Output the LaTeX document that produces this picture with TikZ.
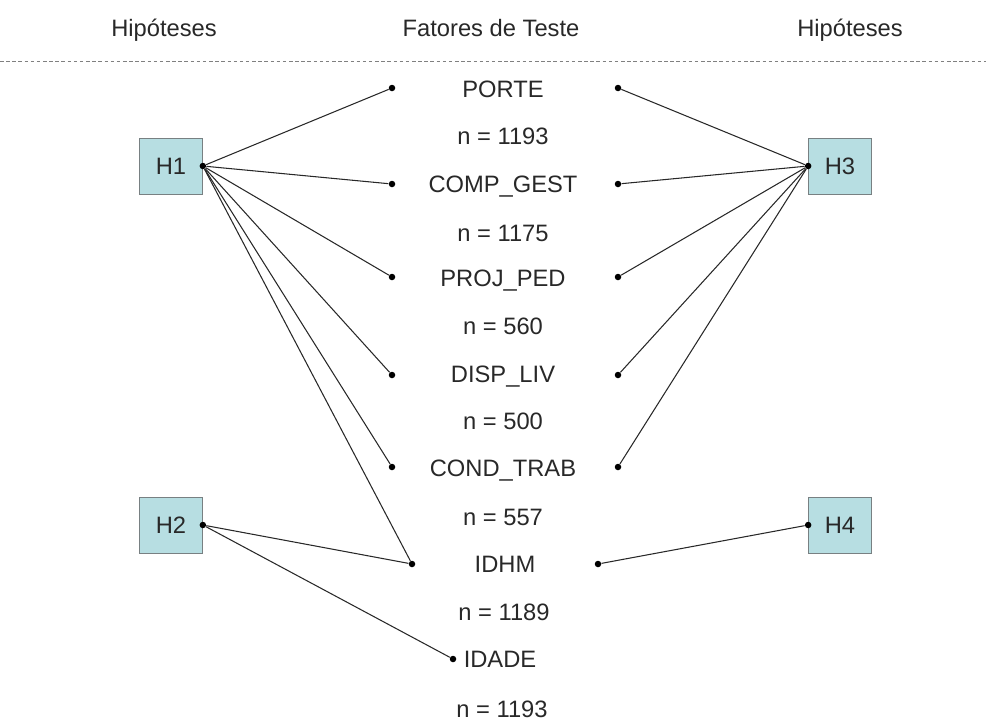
\documentclass[tikz,border=0pt]{standalone}
\usepackage{fontspec}
\setmainfont{Liberation Sans}
\definecolor{caixa}{RGB}{183,222,226}
\definecolor{borda}{RGB}{120,128,130}
\definecolor{texto}{RGB}{40,40,40}
\tikzset{
  hipbox/.style={draw=borda,fill=caixa,minimum width=1.26cm,minimum height=1.12cm,inner sep=0pt,text=texto,font=\fontsize{13.5}{16}\selectfont},
  pto/.style={circle,fill=black,inner sep=0pt,minimum size=0.13cm},
  rotulo/.style={text=texto,font=\fontsize{13.5}{16}\selectfont,text height=11pt,text depth=1.5pt}
}
\begin{document}
\begin{tikzpicture}[x=0.02cm,y=-0.02cm]
\useasboundingbox (0,0) rectangle (986,724);
% cabecalho
\node[rotulo] (t1) at (164,28) {Hipóteses};
\node[rotulo] (t2) at (491,28) {Fatores de Teste};
\node[rotulo] (t3) at (850,28) {Hipóteses};
\coordinate (sepA) at (0,61);
\coordinate (sepB) at (986,61);
\draw[gray,dash pattern=on 2pt off 1.5pt,line width=0.5pt] (sepA) -- (sepB);

% hipoteses
\node[hipbox] (H1) at (171,166) {H1};
\node[hipbox] (H2) at (171,525) {H2};
\node[hipbox] (H3) at (840,166) {H3};
\node[hipbox] (H4) at (840,525) {H4};

% fatores
\node[rotulo] (f1) at (503,89) {PORTE};
\node[rotulo] (n1) at (503,136) {n = 1193};
\node[rotulo] (f2) at (503,184) {COMP\_GEST};
\node[rotulo] (n2) at (503,233) {n = 1175};
\node[rotulo] (f3) at (503,278) {PROJ\_PED};
\node[rotulo] (n3) at (503,326) {n = 560};
\node[rotulo] (f4) at (503,374) {DISP\_LIV};
\node[rotulo] (n4) at (503,421) {n = 500};
\node[rotulo] (f5) at (503,468) {COND\_TRAB};
\node[rotulo] (n5) at (503,517) {n = 557};
\node[rotulo] (f6) at (505,564) {IDHM};
\node[rotulo] (n6) at (504,612) {n = 1189};
\node[rotulo] (f7) at (500,659) {IDADE};
\node[rotulo] (n7) at (502,709) {n = 1193};

% pontos
\node[pto] (a1) at (392,88) {};
\node[pto] (a2) at (392,184) {};
\node[pto] (a3) at (392,277) {};
\node[pto] (a4) at (392,375) {};
\node[pto] (a5) at (392,467) {};
\node[pto] (a6) at (412,564) {};
\node[pto] (a7) at (453,659) {};
\node[pto] (b1) at (618,88) {};
\node[pto] (b2) at (618,184) {};
\node[pto] (b3) at (618,277) {};
\node[pto] (b4) at (618,375) {};
\node[pto] (b5) at (618,467) {};
\node[pto] (b6) at (598,564) {};
\node[pto] (p1) at (H1.east) {};
\node[pto] (p2) at (H2.east) {};
\node[pto] (p3) at (H3.west) {};
\node[pto] (p4) at (H4.west) {};

\path[draw=texto,line width=0.6pt]
% H1
(p1) edge (a1)
(p1) edge (a2)
(p1) edge (a3)
(p1) edge (a4)
(p1) edge (a5)
(p1) edge (a6)
% H2
(p2) edge (a6)
(p2) edge (a7);

\path[draw=texto,line width=0.6pt]
% H3
(p3) edge (b1)
(p3) edge (b2)
(p3) edge (b3)
(p3) edge (b4)
(p3) edge (b5)
% H4
(p4) edge (b6);

\end{tikzpicture}
\end{document}
